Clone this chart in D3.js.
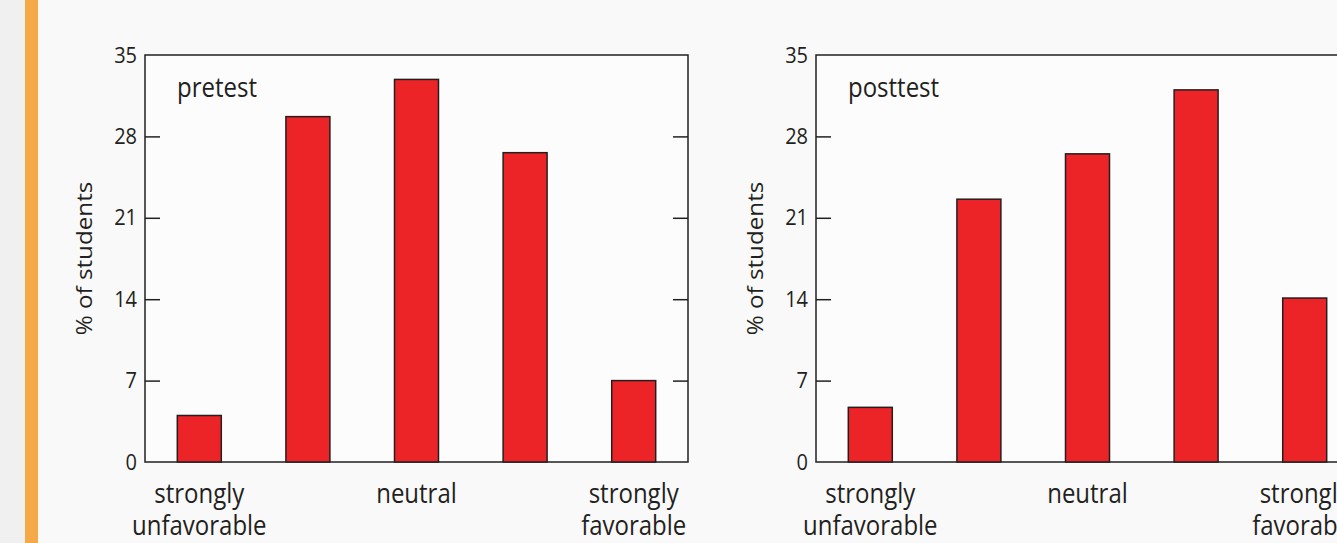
<!DOCTYPE html>
<html><head><meta charset="utf-8">
<script src="https://cdn.jsdelivr.net/npm/d3@7"></script>
<style>
body{margin:0;background:#f9f9f9;overflow:hidden}
svg{display:block}
text{font-family:"Open Sans",sans-serif;fill:#231f20}
</style></head><body>
<svg id="c" width="1337" height="543"></svg>
<script>
// ---- data ----
const categories = ["strongly unfavorable","unfavorable","neutral","favorable","strongly favorable"];
const categoryLabels = [["strongly","unfavorable"],[],["neutral"],[],["strongly","favorable"]];
const pretestValues = [4.0, 29.7, 32.9, 26.6, 7.0];
const posttestValues = [4.7, 22.6, 26.5, 32.0, 14.1];
const yTicks = [0, 7, 14, 21, 28, 35];
const panelTitles = ["pretest", "posttest"];
const yTitle = "% of students";

// ---- layout ----
const W = 1337, H = 543;
const panelLefts = [145, 816];
const panelWidth = 543, plotTop = 55, plotBottom = 462;
const stretch = 1.1;
const ink = "#231f20";

const svg = d3.select("#c");
svg.append("rect").attr("x",0).attr("y",0).attr("width",W).attr("height",H).attr("fill","#f9f9f9");
svg.append("rect").attr("x",0).attr("y",0).attr("width",25).attr("height",H).attr("fill","#f0f0f0");
svg.append("rect").attr("x",25).attr("y",0).attr("width",13).attr("height",H).attr("fill","#f5a947");

const y = d3.scaleLinear().domain([0, 35]).range([plotBottom, plotTop]);

[pretestValues, posttestValues].forEach((vals, pi) => {
  const left = panelLefts[pi];
  const x = d3.scaleBand().domain(categories).range([left, left + panelWidth])
    .paddingInner(0.595).paddingOuter(0.2975);
  const g = svg.append("g");
  const [x0, x1] = x.range();
  const [y0, y1] = y.range();

  // frame
  g.append("rect").attr("x", x0).attr("y", y1).attr("width", x1 - x0).attr("height", y0 - y1)
    .attr("fill", "#fcfcfc").attr("stroke", ink).attr("stroke-width", 1.5);

  // bars
  g.selectAll("rect.bar").data(vals).join("rect").attr("class","bar")
    .attr("x", (d, i) => x(categories[i]))
    .attr("width", x.bandwidth())
    .attr("y", d => y(d))
    .attr("height", d => y(0) - y(d))
    .attr("fill", "#ec2427").attr("stroke", ink).attr("stroke-width", 1.5);

  // left axis
  const ax = g.append("g").attr("transform", `translate(${x0},0)`)
    .call(d3.axisLeft(y).tickValues(yTicks).tickSizeInner(-15).tickSizeOuter(0).tickPadding(8));
  ax.select(".domain").remove();
  ax.selectAll(".tick line").attr("stroke", ink).attr("stroke-width", 1.5)
    .filter(d => d === 0 || d === 35).remove();
  ax.selectAll(".tick text").attr("font-size", 20).attr("font-family", '"Open Sans",sans-serif')
    .attr("fill", ink).attr("transform", `scale(1,${stretch})`);

  // right axis ticks
  const ar = g.append("g").attr("transform", `translate(${x1},0)`)
    .call(d3.axisRight(y).tickValues(yTicks).tickSizeInner(-15).tickSizeOuter(0).tickFormat(""));
  ar.select(".domain").remove();
  ar.selectAll(".tick line").attr("stroke", ink).attr("stroke-width", 1.5)
    .filter(d => d === 0 || d === 35).remove();

  // category labels
  categoryLabels.forEach((lines, i) => {
    const cx = x(categories[i]) + x.bandwidth() / 2;
    lines.forEach((t, li) => {
      g.append("text").attr("text-anchor", "middle").attr("font-size", 24)
        .attr("transform", `translate(${cx},${503 + li * 32}) scale(1,${stretch})`).text(t);
    });
  });

  // panel title
  g.append("text").attr("font-size", 24)
    .attr("transform", `translate(${x0 + 32},${97}) scale(1,${stretch})`).text(panelTitles[pi]);

  // y title
  g.append("text").attr("text-anchor", "middle").attr("font-size", 22)
    .attr("transform", `translate(${x0 - 53},${(y0 + y1) / 2}) scale(1,${stretch}) rotate(-90)`).text(yTitle);
});
</script>
</body></html>
